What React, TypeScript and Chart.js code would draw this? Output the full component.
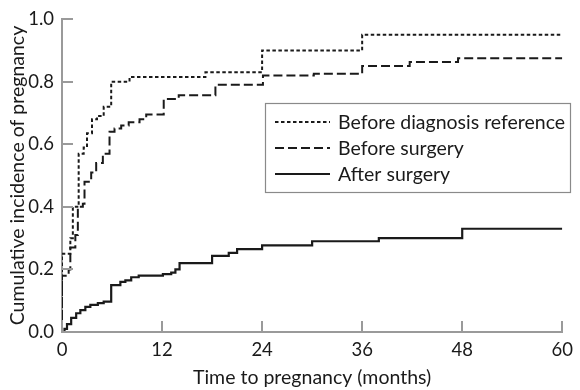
import React, { useEffect, useRef } from "react";
import { Chart, registerables } from "chart.js";

Chart.register(...registerables);

// Before diagnosis reference (dotted)
const refTimes = [0, 0, 1.0, 1.3, 2.0, 2.6, 3.0, 3.6, 4.2, 5.0, 5.9, 8.1, 17.2, 24.0, 36.0, 60];
const refValues = [0, 0.25, 0.30, 0.40, 0.57, 0.59, 0.635, 0.68, 0.69, 0.72, 0.80, 0.815, 0.83, 0.90, 0.95, 0.95];

// Before surgery (dashed)
const beforeTimes = [0, 0, 0.8, 1.0, 1.6, 1.9, 2.5, 2.7, 3.5, 4.1, 4.9, 5.7, 6.3, 7.1, 8.0, 9.3, 10.1, 12.2, 14.0, 18.4, 24.1, 30.2, 36.0, 41.7, 47.5, 60];
const beforeValues = [0, 0.18, 0.20, 0.27, 0.31, 0.40, 0.41, 0.48, 0.51, 0.54, 0.57, 0.64, 0.65, 0.66, 0.67, 0.68, 0.695, 0.745, 0.757, 0.79, 0.82, 0.825, 0.85, 0.863, 0.875, 0.875];

// After surgery (solid)
const afterTimes = [0, 0.3, 0.6, 1.1, 1.7, 2.2, 2.8, 3.4, 4.3, 5.0, 5.9, 7.0, 7.6, 8.3, 9.2, 12.1, 13.1, 13.6, 14.1, 18.0, 20.0, 21.0, 24.0, 30.0, 38.0, 48.0, 60];
const afterValues = [0, 0.01, 0.025, 0.045, 0.06, 0.07, 0.08, 0.087, 0.092, 0.097, 0.15, 0.16, 0.165, 0.175, 0.18, 0.185, 0.19, 0.2, 0.22, 0.243, 0.253, 0.265, 0.277, 0.29, 0.30, 0.33, 0.33];

const seriesLabels = ["Before diagnosis reference", "Before surgery", "After surgery"];
const xTicks = [0, 12, 24, 36, 48, 60];
const yTicks = [0, 0.2, 0.4, 0.6, 0.8, 1.0];
const xTitle = "Time to pregnancy (months)";
const yTitle = "Cumulative incidence of pregnancy";

const FONT = "Lato";
const AXIS_GRAY = "#9a9a9a";
const INK = "#1a1a1a";

const dashes = [[3.5, 2.5], [9, 4], []];
const widths = [2, 2, 2.2];

const toPts = (t: number[], v: number[]) => t.map((x, i) => ({ x, y: v[i] }));

const decorPlugin = {
  id: "decor",
  afterDraw(chart: any) {
    const ctx = chart.ctx as CanvasRenderingContext2D;
    const { left, right, top, bottom } = chart.chartArea;
    const xs = chart.scales.x;
    const ys = chart.scales.y;
    ctx.save();
    // inward tick marks
    ctx.strokeStyle = AXIS_GRAY;
    ctx.lineWidth = 2;
    xTicks.forEach((t) => {
      const px = Math.round(xs.getPixelForValue(t));
      ctx.beginPath();
      ctx.moveTo(px, bottom);
      ctx.lineTo(px, bottom - 11);
      ctx.stroke();
    });
    yTicks.forEach((v) => {
      const py = Math.round(ys.getPixelForValue(v));
      ctx.beginPath();
      ctx.moveTo(left, py);
      ctx.lineTo(left + 11, py);
      ctx.stroke();
    });
    // axis titles
    ctx.fillStyle = INK;
    ctx.font = `19.5px ${FONT}`;
    ctx.textAlign = "center";
    ctx.textBaseline = "middle";
    ctx.fillText(xTitle, (left + right) / 2, bottom + 46);
    ctx.save();
    ctx.translate(18, (top + bottom) / 2);
    ctx.rotate(-Math.PI / 2);
    ctx.fillText(yTitle, 0, 0);
    ctx.restore();
    // legend box
    const bx = 265.5, by = 103.5, bw = 305, bh = 89;
    ctx.strokeStyle = "#8a8a8a";
    ctx.lineWidth = 1.2;
    ctx.strokeRect(bx, by, bw, bh);
    const rowY = [123, 149, 175];
    ctx.textAlign = "left";
    seriesLabels.forEach((lab, i) => {
      ctx.strokeStyle = INK;
      ctx.lineWidth = widths[i];
      ctx.setLineDash(dashes[i]);
      ctx.beginPath();
      ctx.moveTo(275, rowY[i] - 1);
      ctx.lineTo(330, rowY[i] - 1);
      ctx.stroke();
      ctx.setLineDash([]);
      ctx.fillStyle = INK;
      ctx.font = `19.5px ${FONT}`;
      ctx.fillText(lab, 338, rowY[i]);
    });
    ctx.restore();
  },
};

export default function App() {
  const ref = useRef<HTMLCanvasElement | null>(null);
  useEffect(() => {
    if (!ref.current) return;
    const series = [
      toPts(refTimes, refValues),
      toPts(beforeTimes, beforeValues),
      toPts(afterTimes, afterValues),
    ];
    const chart = new Chart(ref.current, {
      type: "line",
      data: {
        datasets: series.map((pts, i) => ({
          label: seriesLabels[i],
          data: pts,
          stepped: "before" as const,
          borderColor: INK,
          borderWidth: widths[i],
          borderDash: dashes[i],
          pointRadius: 0,
          fill: false,
        })),
      },
      options: {
        animation: false,
        responsive: false,
        maintainAspectRatio: false,
        devicePixelRatio: 1,
        layout: { padding: { top: 10, right: 11, left: 0, bottom: 0 } },
        plugins: { legend: { display: false }, tooltip: { enabled: false } },
        scales: {
          x: {
            type: "linear",
            min: 0,
            max: 60,
            afterFit: (s: any) => { s.height = 58; },
            afterBuildTicks: (s: any) => { s.ticks = xTicks.map((v) => ({ value: v })); },
            grid: { display: true, drawOnChartArea: false, drawTicks: false },
            border: { display: true, color: AXIS_GRAY, width: 2 },
            ticks: {
              padding: 7,
              color: INK,
              font: { family: FONT, size: 18.5 },
              maxRotation: 0,
              callback: (v: any) => String(v),
            },
          },
          y: {
            type: "linear",
            min: 0,
            max: 1,
            afterFit: (s: any) => { s.width = 62; },
            afterBuildTicks: (s: any) => { s.ticks = yTicks.map((v) => ({ value: v })); },
            grid: { display: true, drawOnChartArea: false, drawTicks: false },
            border: { display: true, color: AXIS_GRAY, width: 2 },
            ticks: {
              padding: 8,
              color: INK,
              font: { family: FONT, size: 18.5 },
              callback: (v: any) => Number(v).toFixed(1),
            },
          },
        },
      },
      plugins: [decorPlugin],
    });
    return () => chart.destroy();
  }, []);
  return (
    <div style={{ position: "absolute", left: 0, top: 0, width: 580, height: 390, background: "#fff" }}>
      <canvas ref={ref} width={580} height={390} style={{ width: 580, height: 390 }} />
    </div>
  );
}
